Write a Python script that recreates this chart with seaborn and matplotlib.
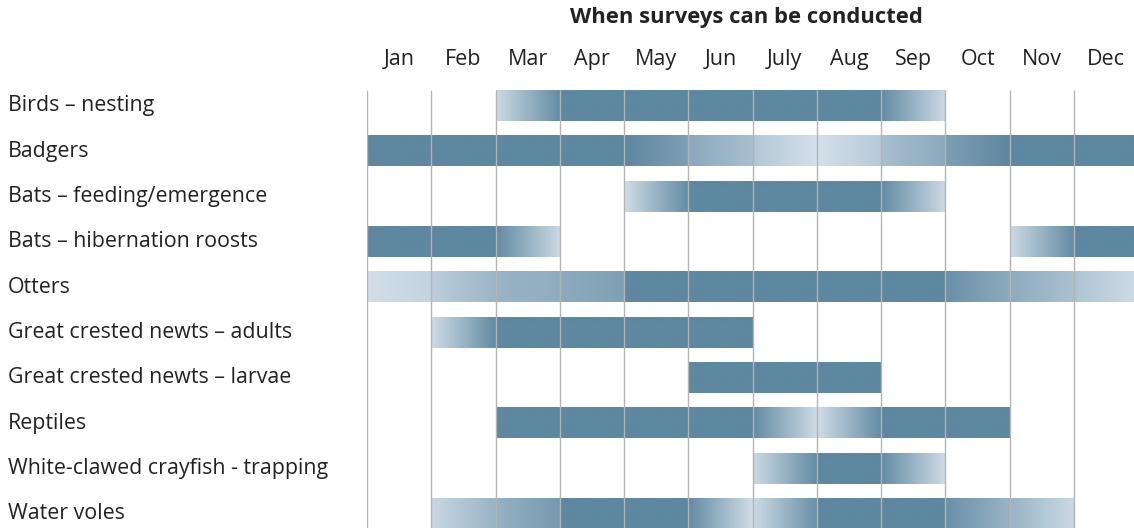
import numpy as np
import matplotlib
matplotlib.use("Agg")
import matplotlib.pyplot as plt
import matplotlib.transforms as mtransforms
import seaborn as sns

# ---------------- data ----------------
months = ["Jan", "Feb", "Mar", "Apr", "May", "Jun", "July", "Aug", "Sep", "Oct", "Nov", "Dec"]
species = [
    "Birds \u2013 nesting",
    "Badgers",
    "Bats \u2013 feeding/emergence",
    "Bats \u2013 hibernation roosts",
    "Otters",
    "Great crested newts \u2013 adults",
    "Great crested newts \u2013 larvae",
    "Reptiles",
    "White-clawed crayfish - trapping",
    "Water voles",
]
title = "When surveys can be conducted"

# survey suitability per month: (intensity at month start, intensity at month end), None = no survey
F = (1.0, 1.0)
birds_nesting = [None, None, (0.08, 0.95), F, F, F, F, F, (0.95, 0.08), None, None, None]
badgers = [F, F, F, F, (1.0, 0.73), (0.62, 0.37), (0.28, 0.0), (0.0, 0.25), (0.37, 0.62), (0.73, 1.0), F, F]
bats_feeding = [None, None, None, None, (0.05, 0.95), F, F, F, (0.95, 0.08), None, None, None]
bats_hibernation = [F, F, (0.95, 0.08), None, None, None, None, None, None, None, (0.08, 0.95), F]
otters = [(0.02, 0.15), (0.2, 0.48), (0.5, 0.58), (0.6, 0.72), F, F, F, F, F, (0.9, 0.6), (0.6, 0.35), (0.32, 0.05)]
gcn_adults = [None, (0.05, 0.95), F, F, F, F, None, None, None, None, None, None]
gcn_larvae = [None, None, None, None, None, F, F, F, None, None, None, None]
reptiles = [None, None, F, F, F, F, (0.95, 0.05), (0.05, 0.95), F, F, None, None]
crayfish = [None, None, None, None, None, None, (0.08, 0.95), F, (0.95, 0.05), None, None, None]
water_voles = [None, (0.1, 0.5), (0.52, 0.8), F, F, (0.95, 0.05), (0.08, 0.9), F, F, (0.9, 0.5), (0.5, 0.08), None]

profiles = [birds_nesting, badgers, bats_feeding, bats_hibernation, otters,
            gcn_adults, gcn_larvae, reptiles, crayfish, water_voles]

# ---------------- style ----------------
sns.set_theme(style="white")
plt.rcParams["font.family"] = ["Open Sans", "DejaVu Sans"]
cmap = sns.blend_palette(["#d4e0ea", "#5e87a0"], as_cmap=True)

W, H = 1134, 528
fig = plt.figure(figsize=(W / 100, H / 100), dpi=100)

x0_px = 367.0
month_px = 64.27
row_px = 45.33
row0_px = 105.5
ax_left = x0_px / W
ax_width = 12 * month_px / W
ax_top_px = row0_px - 0.5 * row_px
ax_h_px = 10 * row_px
ax = fig.add_axes([ax_left, 1 - (ax_top_px + ax_h_px) / H, ax_width, ax_h_px / H])
ax.set_xlim(0, 12)
ax.set_ylim(9.5, -0.5)
ax.axis("off")

bar_half = 0.34
n = 64
for i, prof in enumerate(profiles):
    for m, seg in enumerate(prof):
        if seg is None:
            continue
        grad = np.linspace(seg[0], seg[1], n).reshape(1, -1)
        ax.imshow(grad, cmap=cmap, vmin=0, vmax=1, aspect="auto",
                  extent=(m, m + 1, i + bar_half, i - bar_half),
                  interpolation="bilinear", zorder=1)

# month separators
ax.vlines(np.arange(0, 13), -bar_half, 9.6, colors="#b4b4b4", linewidth=1.0, zorder=3)
ax.set_xlim(0, 12)
ax.set_ylim(9.5, -0.5)

txt = "#222222"
# month labels
tr_m = mtransforms.blended_transform_factory(ax.transData, fig.transFigure)
for m, name in enumerate(months):
    ax.text(m + 0.5, 1 - 65 / H, name, transform=tr_m, ha="center", va="baseline",
            fontsize=15.5, color=txt)

# title
ax.text(5.9, 1 - 23.5 / H, title, transform=tr_m, ha="center", va="baseline",
        fontsize=15.8, fontweight="bold", color=txt)

# row labels
tr_r = mtransforms.blended_transform_factory(fig.transFigure, ax.transData)
for i, name in enumerate(species):
    ax.text(8 / W, i + 0.13, name, transform=tr_r, ha="left", va="baseline",
            fontsize=15.4, color=txt)

fig.savefig("out.png", dpi=100)
